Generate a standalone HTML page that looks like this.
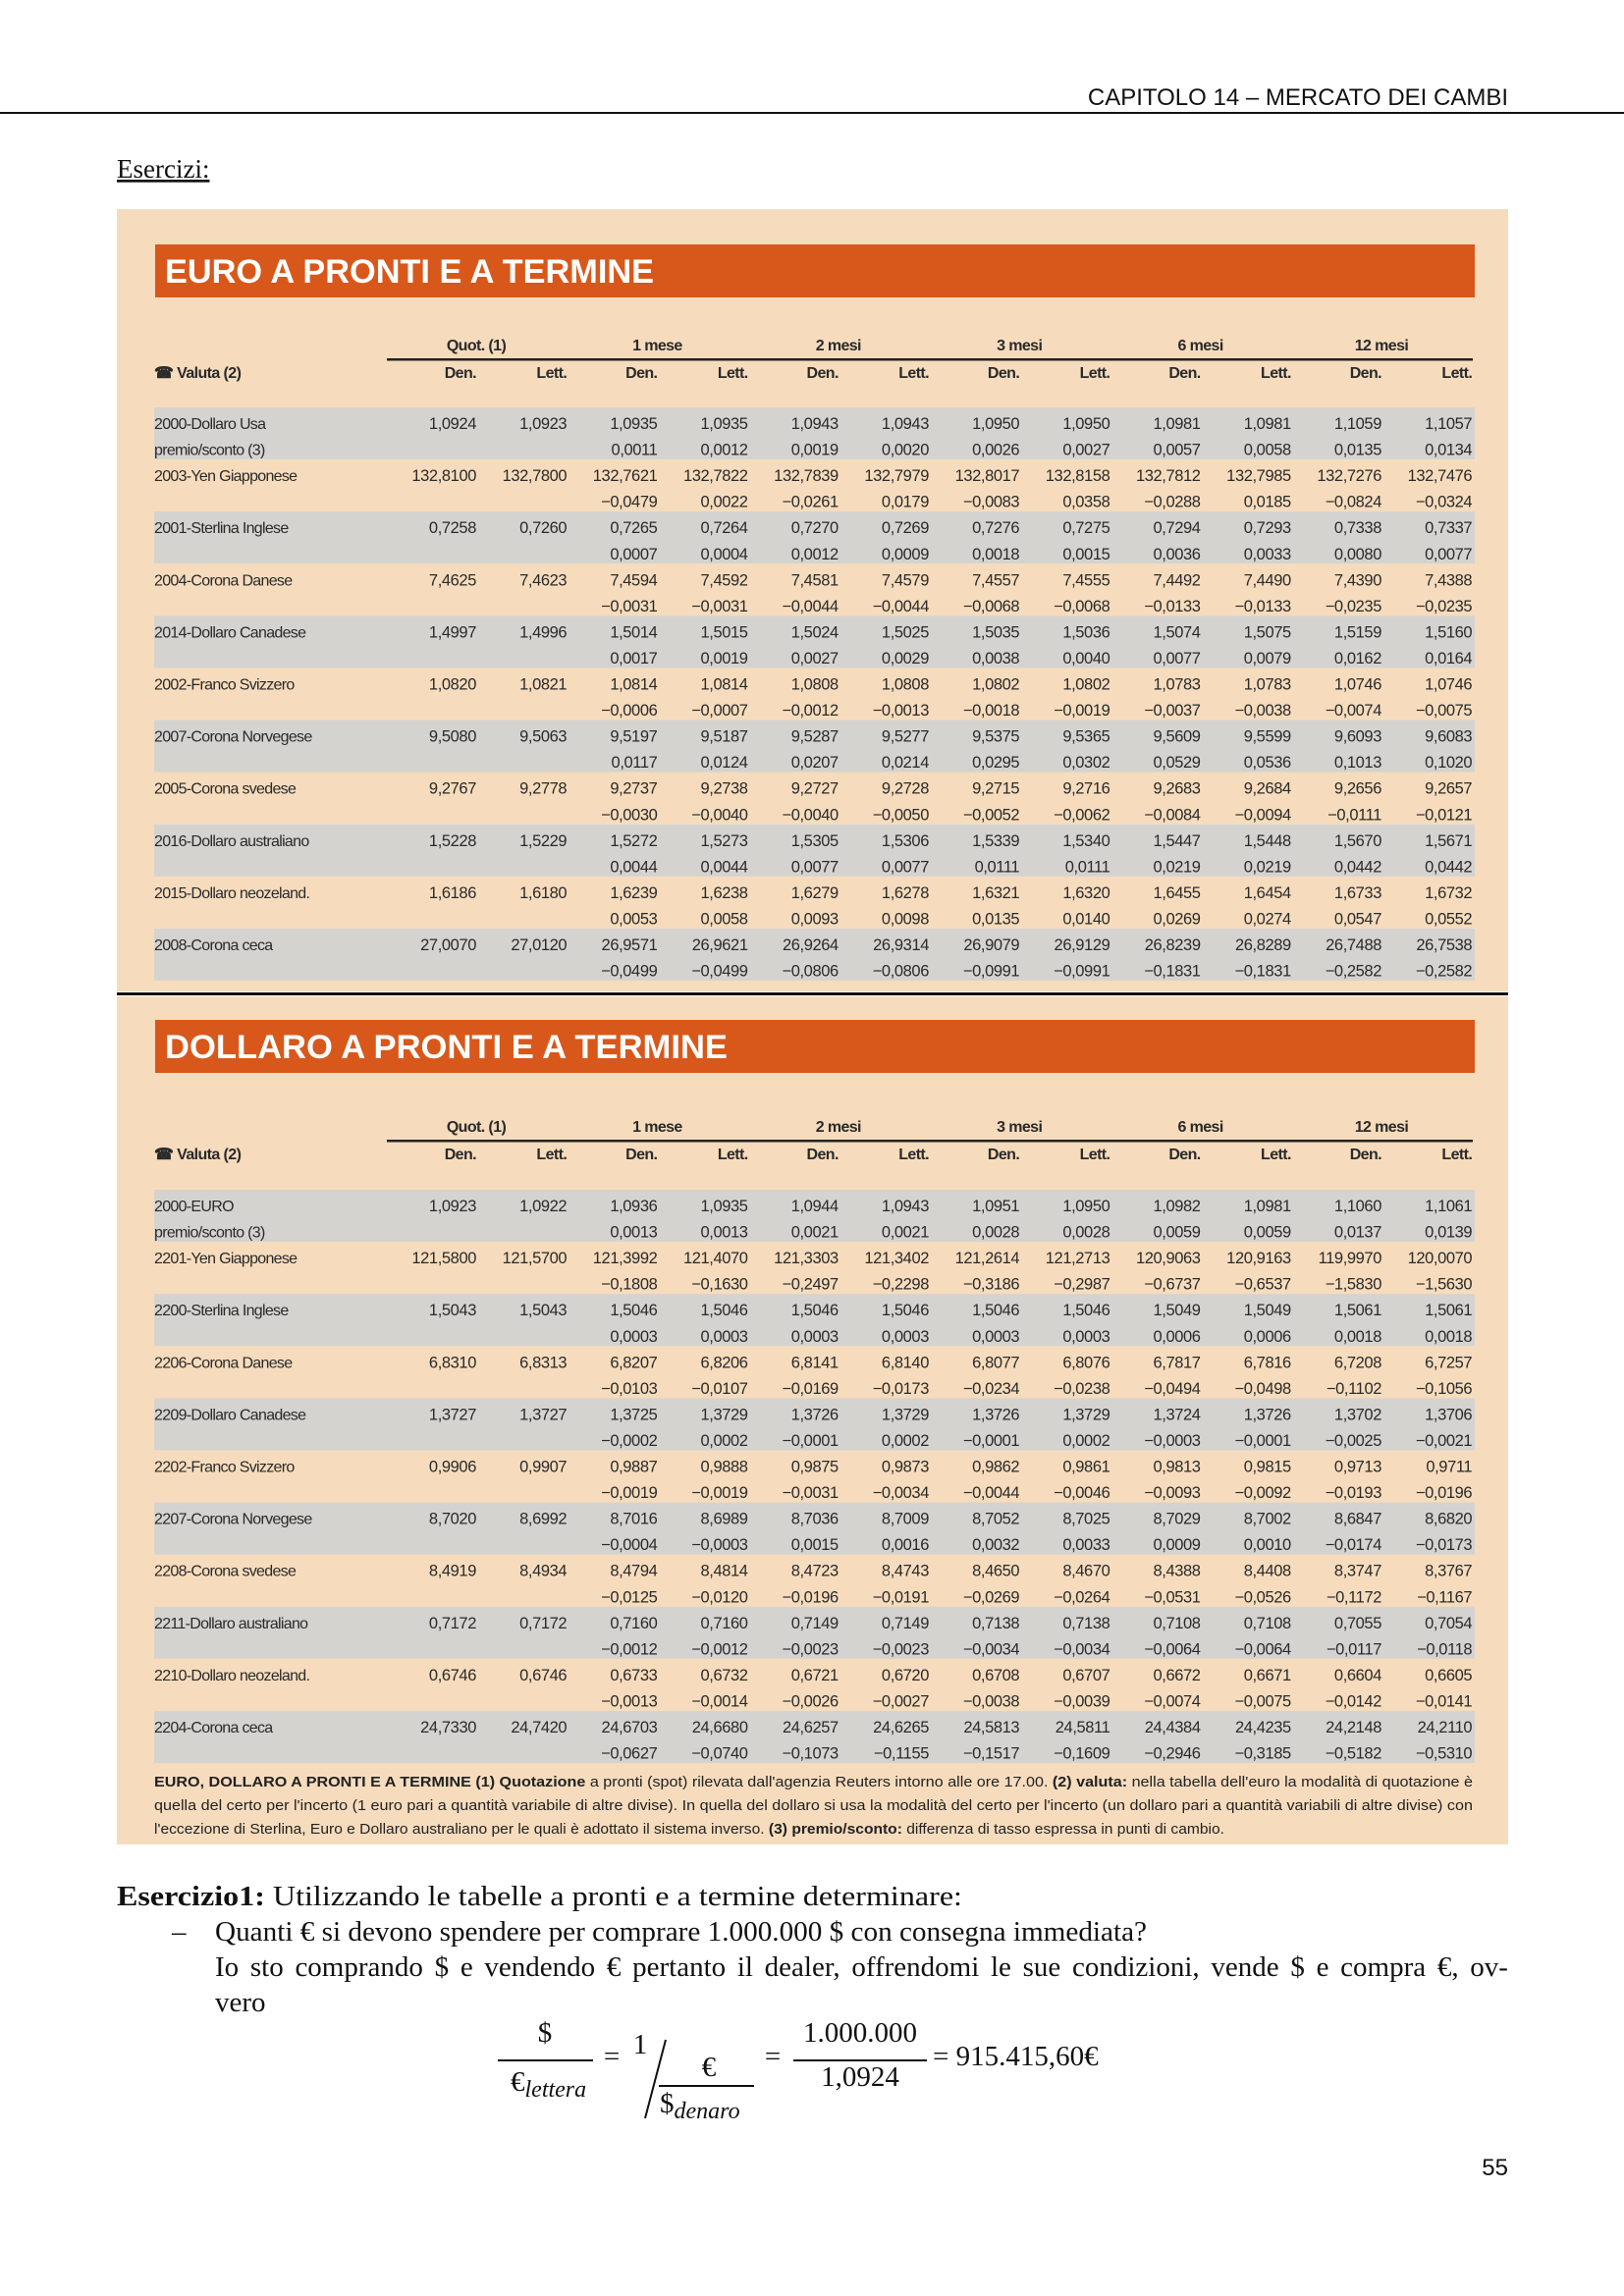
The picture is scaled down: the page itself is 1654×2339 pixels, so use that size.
<!DOCTYPE html>
<html><head><meta charset="utf-8"><style>
html,body{margin:0;padding:0;background:#fff;}
svg{display:block;}
</style></head><body>
<svg id="pg" width="1654" height="2339" viewBox="0 0 1654 2339" xmlns="http://www.w3.org/2000/svg">
<text x="1536" y="107" text-anchor="end" font-family="Liberation Sans, sans-serif" font-size="24" fill="#111">CAPITOLO 14 – MERCATO DEI CAMBI</text>
<rect x="0" y="114" width="1654" height="2" fill="#111"/>
<text x="119" y="181" font-family="Liberation Serif, serif" font-size="27" fill="#111" text-decoration="underline">Esercizi:</text>
<rect x="119" y="213" width="1417" height="797" fill="#f6dcbd"/>
<rect x="119" y="1010" width="1417" height="2" fill="#fff"/>
<rect x="119" y="1011" width="1417" height="3" fill="#111"/>
<rect x="119" y="1015" width="1417" height="864" fill="#f6dcbd"/>
<rect x="158" y="249" width="1344" height="54" fill="#d8581b"/>
<text x="168" y="288" font-family="Liberation Sans, sans-serif" font-weight="bold" font-size="34" fill="#fff" textLength="498" lengthAdjust="spacingAndGlyphs">EURO A PRONTI E A TERMINE</text>
<rect x="158" y="1039" width="1344" height="54" fill="#d8581b"/>
<text x="168" y="1078" font-family="Liberation Sans, sans-serif" font-weight="bold" font-size="34" fill="#fff" textLength="573" lengthAdjust="spacingAndGlyphs">DOLLARO A PRONTI E A TERMINE</text>
<g id="t1"></g>
<g id="t2"></g>
<g font-family="Liberation Sans, sans-serif" font-size="15" fill="#222">
<text x="157" y="1820" textLength="1343" lengthAdjust="spacingAndGlyphs"><tspan font-weight="bold">EURO, DOLLARO A PRONTI E A TERMINE (1) Quotazione</tspan> a pronti (spot) rilevata dall'agenzia Reuters intorno alle ore 17.00. <tspan font-weight="bold">(2) valuta:</tspan> nella tabella dell'euro la modalità di quotazione è</text>
<text x="157" y="1844" textLength="1343" lengthAdjust="spacingAndGlyphs">quella del certo per l'incerto (1 euro pari a quantità variabile di altre divise). In quella del dollaro si usa la modalità del certo per l'incerto (un dollaro pari a quantità variabili di altre divise) con</text>
<text x="157" y="1868" textLength="1090" lengthAdjust="spacingAndGlyphs">l'eccezione di Sterlina, Euro e Dollaro australiano per le quali è adottato il sistema inverso. <tspan font-weight="bold">(3) premio/sconto:</tspan> differenza di tasso espressa in punti di cambio.</text>
</g>
<g font-family="Liberation Serif, serif" font-size="29" fill="#111">
<text x="119" y="1941" textLength="861" lengthAdjust="spacingAndGlyphs"><tspan font-weight="bold">Esercizio1:</tspan> Utilizzando le tabelle a pronti e a termine determinare:</text>
<text x="175" y="1977">–</text>
<text x="219" y="1977" textLength="949" lengthAdjust="spacingAndGlyphs">Quanti € si devono spendere per comprare 1.000.000 $ con consegna immediata?</text>
<text id="ans1" x="219" y="2013">Io sto comprando $ e vendendo € pertanto il dealer, offrendomi le sue condizioni, vende $ e compra €, ov-</text>
<text x="219" y="2049">vero</text>
</g>
<g font-family="Liberation Serif, serif" font-size="29" fill="#111">
<text x="555" y="2080" text-anchor="middle">$</text>
<rect x="507" y="2098" width="97" height="2" fill="#111"/>
<text x="520" y="2130">€<tspan font-style="italic" font-size="24" dy="6">lettera</tspan></text>
<text x="623" y="2104" text-anchor="middle">=</text>
<text x="652" y="2092" text-anchor="middle">1</text>
<line x1="678" y1="2078" x2="657" y2="2158" stroke="#111" stroke-width="2"/>
<text x="722" y="2115" text-anchor="middle">€</text>
<rect x="671" y="2124" width="97" height="2" fill="#111"/>
<text x="672" y="2152">$<tspan font-style="italic" font-size="24" dy="6">denaro</tspan></text>
<text x="787" y="2104" text-anchor="middle">=</text>
<text x="876" y="2080" text-anchor="middle">1.000.000</text>
<rect x="808" y="2098" width="136" height="2" fill="#111"/>
<text x="876" y="2125" text-anchor="middle">1,0924</text>
<text x="950" y="2104">= 915.415,60€</text>
</g>
<text x="1536" y="2216" text-anchor="end" font-family="Liberation Sans, sans-serif" font-size="24" fill="#111">55</text>
</svg>
<script>
const groups=["Quot. (1)","1 mese","2 mesi","3 mesi","6 mesi","12 mesi"];
const subHeads=["Den.","Lett."];
const euroNames=["2000-Dollaro Usa","2003-Yen Giapponese","2001-Sterlina Inglese","2004-Corona Danese","2014-Dollaro Canadese","2002-Franco Svizzero","2007-Corona Norvegese","2005-Corona svedese","2016-Dollaro australiano","2015-Dollaro neozeland.","2008-Corona ceca"];
const euroRates=[
"1,0924 1,0923 1,0935 1,0935 1,0943 1,0943 1,0950 1,0950 1,0981 1,0981 1,1059 1,1057",
"132,8100 132,7800 132,7621 132,7822 132,7839 132,7979 132,8017 132,8158 132,7812 132,7985 132,7276 132,7476",
"0,7258 0,7260 0,7265 0,7264 0,7270 0,7269 0,7276 0,7275 0,7294 0,7293 0,7338 0,7337",
"7,4625 7,4623 7,4594 7,4592 7,4581 7,4579 7,4557 7,4555 7,4492 7,4490 7,4390 7,4388",
"1,4997 1,4996 1,5014 1,5015 1,5024 1,5025 1,5035 1,5036 1,5074 1,5075 1,5159 1,5160",
"1,0820 1,0821 1,0814 1,0814 1,0808 1,0808 1,0802 1,0802 1,0783 1,0783 1,0746 1,0746",
"9,5080 9,5063 9,5197 9,5187 9,5287 9,5277 9,5375 9,5365 9,5609 9,5599 9,6093 9,6083",
"9,2767 9,2778 9,2737 9,2738 9,2727 9,2728 9,2715 9,2716 9,2683 9,2684 9,2656 9,2657",
"1,5228 1,5229 1,5272 1,5273 1,5305 1,5306 1,5339 1,5340 1,5447 1,5448 1,5670 1,5671",
"1,6186 1,6180 1,6239 1,6238 1,6279 1,6278 1,6321 1,6320 1,6455 1,6454 1,6733 1,6732",
"27,0070 27,0120 26,9571 26,9621 26,9264 26,9314 26,9079 26,9129 26,8239 26,8289 26,7488 26,7538"];
const euroPrem=[
"0,0011 0,0012 0,0019 0,0020 0,0026 0,0027 0,0057 0,0058 0,0135 0,0134",
"−0,0479 0,0022 −0,0261 0,0179 −0,0083 0,0358 −0,0288 0,0185 −0,0824 −0,0324",
"0,0007 0,0004 0,0012 0,0009 0,0018 0,0015 0,0036 0,0033 0,0080 0,0077",
"−0,0031 −0,0031 −0,0044 −0,0044 −0,0068 −0,0068 −0,0133 −0,0133 −0,0235 −0,0235",
"0,0017 0,0019 0,0027 0,0029 0,0038 0,0040 0,0077 0,0079 0,0162 0,0164",
"−0,0006 −0,0007 −0,0012 −0,0013 −0,0018 −0,0019 −0,0037 −0,0038 −0,0074 −0,0075",
"0,0117 0,0124 0,0207 0,0214 0,0295 0,0302 0,0529 0,0536 0,1013 0,1020",
"−0,0030 −0,0040 −0,0040 −0,0050 −0,0052 −0,0062 −0,0084 −0,0094 −0,0111 −0,0121",
"0,0044 0,0044 0,0077 0,0077 0,0111 0,0111 0,0219 0,0219 0,0442 0,0442",
"0,0053 0,0058 0,0093 0,0098 0,0135 0,0140 0,0269 0,0274 0,0547 0,0552",
"−0,0499 −0,0499 −0,0806 −0,0806 −0,0991 −0,0991 −0,1831 −0,1831 −0,2582 −0,2582"];
const dollarNames=["2000-EURO","2201-Yen Giapponese","2200-Sterlina Inglese","2206-Corona Danese","2209-Dollaro Canadese","2202-Franco Svizzero","2207-Corona Norvegese","2208-Corona svedese","2211-Dollaro australiano","2210-Dollaro neozeland.","2204-Corona ceca"];
const dollarRates=[
"1,0923 1,0922 1,0936 1,0935 1,0944 1,0943 1,0951 1,0950 1,0982 1,0981 1,1060 1,1061",
"121,5800 121,5700 121,3992 121,4070 121,3303 121,3402 121,2614 121,2713 120,9063 120,9163 119,9970 120,0070",
"1,5043 1,5043 1,5046 1,5046 1,5046 1,5046 1,5046 1,5046 1,5049 1,5049 1,5061 1,5061",
"6,8310 6,8313 6,8207 6,8206 6,8141 6,8140 6,8077 6,8076 6,7817 6,7816 6,7208 6,7257",
"1,3727 1,3727 1,3725 1,3729 1,3726 1,3729 1,3726 1,3729 1,3724 1,3726 1,3702 1,3706",
"0,9906 0,9907 0,9887 0,9888 0,9875 0,9873 0,9862 0,9861 0,9813 0,9815 0,9713 0,9711",
"8,7020 8,6992 8,7016 8,6989 8,7036 8,7009 8,7052 8,7025 8,7029 8,7002 8,6847 8,6820",
"8,4919 8,4934 8,4794 8,4814 8,4723 8,4743 8,4650 8,4670 8,4388 8,4408 8,3747 8,3767",
"0,7172 0,7172 0,7160 0,7160 0,7149 0,7149 0,7138 0,7138 0,7108 0,7108 0,7055 0,7054",
"0,6746 0,6746 0,6733 0,6732 0,6721 0,6720 0,6708 0,6707 0,6672 0,6671 0,6604 0,6605",
"24,7330 24,7420 24,6703 24,6680 24,6257 24,6265 24,5813 24,5811 24,4384 24,4235 24,2148 24,2110"];
const dollarPrem=[
"0,0013 0,0013 0,0021 0,0021 0,0028 0,0028 0,0059 0,0059 0,0137 0,0139",
"−0,1808 −0,1630 −0,2497 −0,2298 −0,3186 −0,2987 −0,6737 −0,6537 −1,5830 −1,5630",
"0,0003 0,0003 0,0003 0,0003 0,0003 0,0003 0,0006 0,0006 0,0018 0,0018",
"−0,0103 −0,0107 −0,0169 −0,0173 −0,0234 −0,0238 −0,0494 −0,0498 −0,1102 −0,1056",
"−0,0002 0,0002 −0,0001 0,0002 −0,0001 0,0002 −0,0003 −0,0001 −0,0025 −0,0021",
"−0,0019 −0,0019 −0,0031 −0,0034 −0,0044 −0,0046 −0,0093 −0,0092 −0,0193 −0,0196",
"−0,0004 −0,0003 0,0015 0,0016 0,0032 0,0033 0,0009 0,0010 −0,0174 −0,0173",
"−0,0125 −0,0120 −0,0196 −0,0191 −0,0269 −0,0264 −0,0531 −0,0526 −0,1172 −0,1167",
"−0,0012 −0,0012 −0,0023 −0,0023 −0,0034 −0,0034 −0,0064 −0,0064 −0,0117 −0,0118",
"−0,0013 −0,0014 −0,0026 −0,0027 −0,0038 −0,0039 −0,0074 −0,0075 −0,0142 −0,0141",
"−0,0627 −0,0740 −0,1073 −0,1155 −0,1517 −0,1609 −0,2946 −0,3185 −0,5182 −0,5310"];

const NS="http://www.w3.org/2000/svg";
function colX(i){return 485+i*92.2;}
function mk(tag,attrs,parent,txt){const e=document.createElementNS(NS,tag);for(const k in attrs)e.setAttribute(k,attrs[k]);if(txt!==undefined)e.textContent=txt;parent.appendChild(e);return e;}
function build(gid,headY,firstY,names,rates,prem,premLabel){
  const g=document.getElementById(gid);
  const step=26.55;
  groups.forEach((h,k)=>{const t=mk('text',{x:colX(2*k),y:headY,'text-anchor':'middle','font-family':'Liberation Sans, sans-serif','font-size':16,'font-weight':'bold',fill:'#2a2a2a','letter-spacing':'-0.6'},g,h);
    
    });
  const ln=mk('rect',{x:394,y:headY+8,width:1106,height:2.5,fill:'#222'},g);
  
  
  const v=mk('text',{x:157,y:headY+28,'font-family':'Liberation Sans, sans-serif','font-size':16,'font-weight':'bold',fill:'#2a2a2a','letter-spacing':'-0.6'},g,'☎ Valuta (2)');
  
  
  for(let i=0;i<12;i++){const t=mk('text',{x:colX(i),y:headY+28,'text-anchor':'end','font-family':'Liberation Sans, sans-serif','font-size':16,'font-weight':'bold',fill:'#2a2a2a','letter-spacing':'-0.6'},g,subHeads[i%2]);
    
    }
  names.forEach((n,r)=>{
    const cy=firstY+r*2*step;
    if(r%2===0){const b=mk('rect',{x:157,y:cy-16,width:1345,height:53,fill:'#d5d3d0'},g);
      
      }
    const lab=mk('text',{x:157,y:cy+6,'font-family':'Liberation Sans, sans-serif','font-size':16,fill:'#2a2a2a','letter-spacing':'-0.7'},g,n);
    
    
    if(r===0&&premLabel){const p=mk('text',{x:157,y:cy+step+6,'font-family':'Liberation Sans, sans-serif','font-size':16,fill:'#2a2a2a','letter-spacing':'-0.7'},g,'premio/sconto (3)');
      
      }
    rates[r].split(' ').forEach((val,i)=>{const t=mk('text',{x:colX(i),y:cy+6,'text-anchor':'end','font-family':'Liberation Sans, sans-serif','font-size':16.5,fill:'#2a2a2a','letter-spacing':'-0.4'},g,val);
      
      });
    prem[r].split(' ').forEach((val,i)=>{const t=mk('text',{x:colX(i+2),y:cy+step+6,'text-anchor':'end','font-family':'Liberation Sans, sans-serif','font-size':16.5,fill:'#2a2a2a','letter-spacing':'-0.4'},g,val);
      
      });
  });
}
build('t1',357,431,euroNames,euroRates,euroPrem,true);
build('t2',1153,1228,dollarNames,dollarRates,dollarPrem,true);
(function(){const a=document.getElementById('ans1');const w=a.getComputedTextLength();const txt=a.textContent;const spaces=(txt.match(/ /g)||[]).length;const extra=(1317-w)/spaces;if(extra>0&&extra<20)a.setAttribute('word-spacing',extra.toFixed(2));else a.setAttribute('textLength','1317');})();
</script>
</body></html>
